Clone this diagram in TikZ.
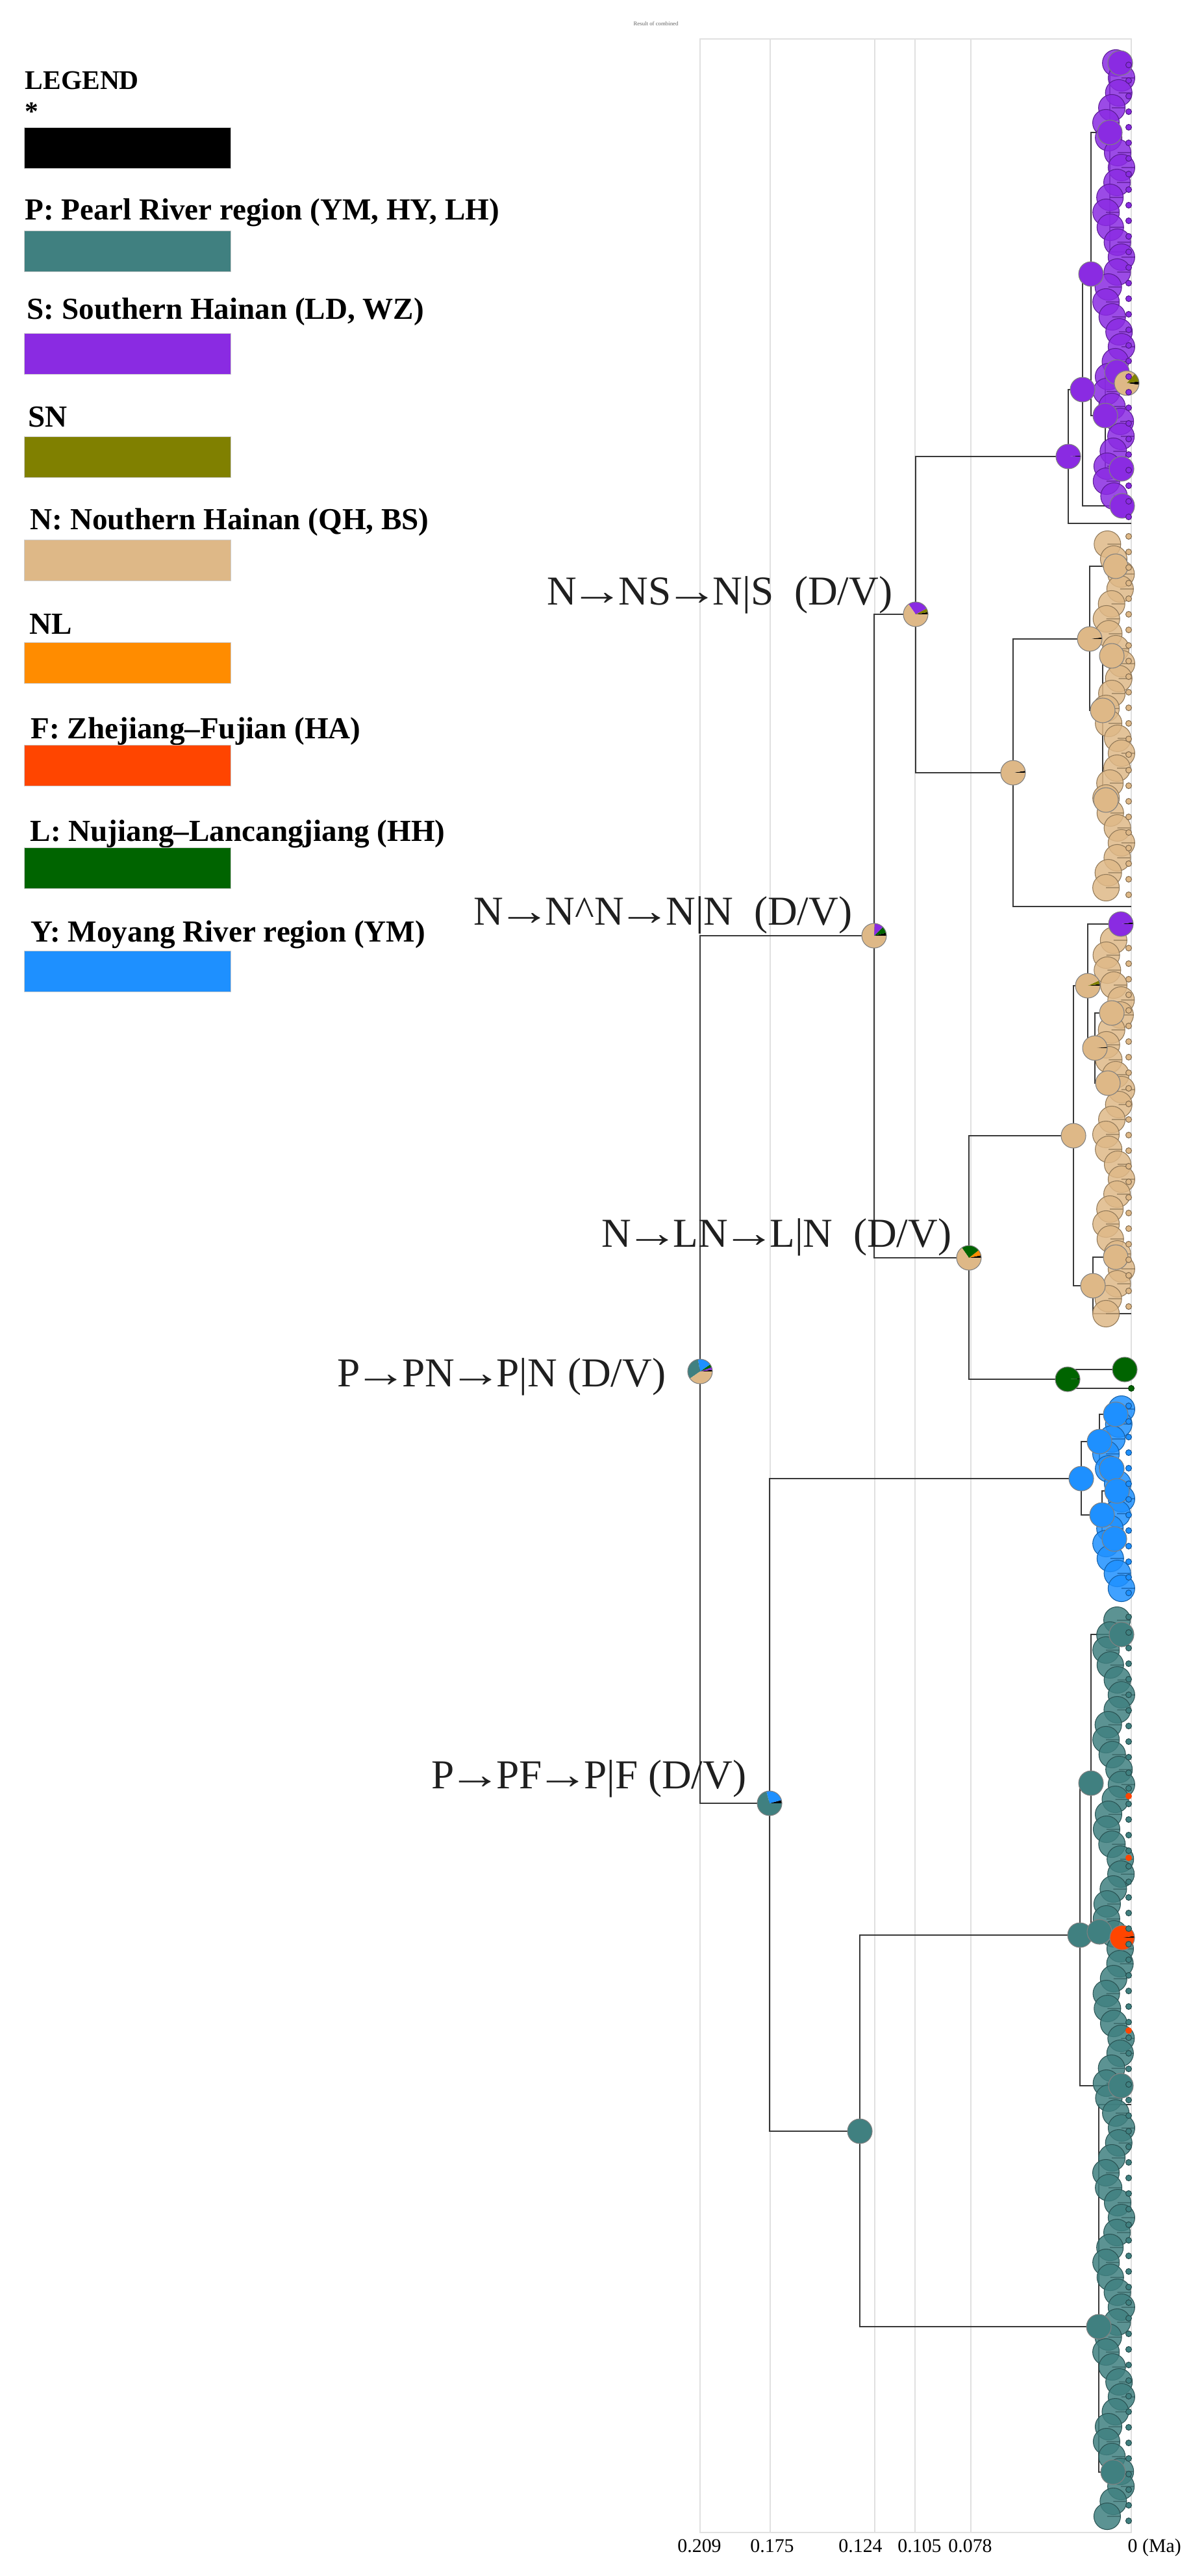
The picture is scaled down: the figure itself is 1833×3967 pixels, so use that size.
\documentclass[tikz,border=0pt]{standalone}
\usepackage{fontspec}
\setmainfont{Liberation Serif}

\definecolor{colP}{HTML}{408080}
\definecolor{colS}{HTML}{8A2BE2}
\definecolor{colSN}{HTML}{808000}
\definecolor{colN}{HTML}{DEB887}
\definecolor{colNL}{HTML}{FF8C00}
\definecolor{colF}{HTML}{FF4500}
\definecolor{colL}{HTML}{006400}
\definecolor{colY}{HTML}{1E90FF}

\tikzset{
  branch/.style={draw=black!78, line width=0.8pt},
  gridline/.style={draw=black!12, line width=0.6pt},
  pierim/.style={draw=black!50, line width=0.3pt},
  swatch/.style={rectangle, draw=black!20, line width=0.2pt, minimum width=3.18cm,
    minimum height=0.63cm, inner sep=0pt},
  legtext/.style={anchor=base west, inner sep=0pt, font=\fontsize{13.4}{16}\selectfont\bfseries},
  legtitle/.style={anchor=base west, inner sep=0pt, font=\fontsize{11.8}{14}\selectfont\bfseries},
  event/.style={anchor=base east, inner sep=0pt, text=black!88, font=\fontsize{18}{21}\selectfont},
  tick/.style={anchor=base, inner sep=0pt, font=\fontsize{8.5}{10}\selectfont},
}

% long thin arrow of the event labels
\newcommand{\evarr}{\kern-.14em\scalebox{1.3}[1]{→}\kern-.14em}

% pie of ancestral ranges: centre, list colour/from/to
\newcommand{\pieat}[2]{%
  \foreach \pc/\pa/\pb in {#2}
    {\fill[\pc] (#1) -- ++(\pa:0.19cm) arc[start angle=\pa, end angle=\pb, radius=0.19cm] -- cycle;}
  \draw[pierim] (#1) circle[radius=0.19cm];}

% near-zero nodes stacked at the tips
\newcommand{\tipball}[3]{%
  \fill[#3, fill opacity=.85] (#1,#2) circle[radius=0.205cm];
  \draw[#3!65!black, line width=.3pt] (#1,#2) circle[radius=0.205cm] (#1,#2) -- ++(0.2cm,0pt);}

\begin{document}
\begin{tikzpicture}[x=0.01cm, y=-0.01cm]
  \useasboundingbox (0,0) rectangle (1833,3967);

  % legend
  \node[legtitle] (lgTitle) at (38,138) {LEGEND};
  \node[legtitle] (lgStar) at (38,186) {*};
  \node[swatch, fill=black] (swStar) at (196,228) {};
  \node[legtext] (lgP) at (38,339) {P: Pearl River region (YM, HY, LH)};
  \node[swatch, fill=colP] (swP) at (196,387) {};
  \node[legtext] (lgS) at (41,492) {S: Southern Hainan (LD, WZ)};
  \node[swatch, fill=colS] (swS) at (196,545) {};
  \node[legtext] (lgSN) at (43,658) {SN};
  \node[swatch, fill=colSN] (swSN) at (196,704) {};
  \node[legtext] (lgN) at (46,815) {N: Nouthern Hainan (QH, BS)};
  \node[swatch, fill=colN] (swN) at (196,863) {};
  \node[legtext] (lgNL) at (45,976) {NL};
  \node[swatch, fill=colNL] (swNL) at (196,1021) {};
  \node[legtext] (lgF) at (47,1137) {F: Zhejiang–Fujian (HA)};
  \node[swatch, fill=colF] (swF) at (196,1179) {};
  \node[legtext] (lgL) at (46,1295) {L: Nujiang–Lancangjiang (HH)};
  \node[swatch, fill=colL] (swL) at (196,1337) {};
  \node[legtext] (lgY) at (47,1450) {Y: Moyang River region (YM)};
  \node[swatch, fill=colY] (swY) at (196,1496) {};

  % time frame
  \node[font=\fontsize{2.5}{3}\selectfont, text=black!60] (title) at (1010,36) {Result of combined};
  \draw[gridline] (1078,60) rectangle (1742,3900);
  \foreach \gx in {1186,1347,1409,1495}
    {\draw[gridline] (\gx,60) -- (\gx,3900);}
  \node[tick] (t209) at (1077,3930) {0.209};
  \node[tick] (t175) at (1189,3930) {0.175};
  \node[tick] (t124) at (1325,3930) {0.124};
  \node[tick] (t105) at (1416,3930) {0.105};
  \node[tick] (t078) at (1494,3930) {0.078};
  \node[tick, anchor=base west] (t000) at (1736,3930) {0 (Ma)};

  % nodes
  \coordinate (root) at (1078,2112);
  \coordinate (nn) at (1346,1441);
  \coordinate (ns) at (1410,946);
  \coordinate (ln) at (1492,1937);
  \coordinate (pf) at (1185,2777);
  \coordinate (s0) at (1645,703);
  \coordinate (s1) at (1667,600);
  \coordinate (s2) at (1680,422);
  \coordinate (s3) at (1709,204);
  \coordinate (s3a) at (1725,97);
  \coordinate (s3b) at (1742,388);
  \coordinate (s4) at (1702,640);
  \coordinate (s4a) at (1720,573);
  \coordinate (s4b) at (1727,722);
  \coordinate (s5) at (1728,779);
  \coordinate (sTip) at (1742,806);
  \coordinate (na) at (1560,1190);
  \coordinate (nb) at (1678,984);
  \coordinate (nc) at (1718,872);
  \coordinate (nd) at (1698,1094);
  \coordinate (nda) at (1712,1010);
  \coordinate (ndb) at (1703,1232);
  \coordinate (naTip) at (1742,1396);
  \coordinate (l0) at (1653,1749);
  \coordinate (l1) at (1675,1518);
  \coordinate (lp) at (1726,1423);
  \coordinate (l3) at (1686,1614);
  \coordinate (l3a) at (1712,1560);
  \coordinate (l3b) at (1706,1668);
  \coordinate (l2) at (1683,1980);
  \coordinate (l2a) at (1718,1936);
  \coordinate (l2b) at (1742,2023);
  \coordinate (g0) at (1644,2124);
  \coordinate (g1) at (1732,2109);
  \coordinate (gTip) at (1742,2138);
  \coordinate (y0) at (1665,2277);
  \coordinate (y1) at (1693,2220);
  \coordinate (y1a) at (1718,2178);
  \coordinate (y1b) at (1712,2262);
  \coordinate (y2) at (1697,2333);
  \coordinate (y2a) at (1720,2296);
  \coordinate (y2b) at (1716,2370);
  \coordinate (p2) at (1324,3282);
  \coordinate (p3) at (1663,2980);
  \coordinate (p3a) at (1680,2746);
  \coordinate (p3b) at (1693,2975);
  \coordinate (p3c) at (1727,2517);
  \coordinate (p3d) at (1726,3212);
  \coordinate (p4) at (1692,3583);
  \coordinate (p4a) at (1742,3241);
  \coordinate (p4b) at (1714,3807);
  \coordinate (sOdd) at (1735,590);
  \coordinate (pOdd) at (1728,2984);

  % branches
  \draw[branch] (root) |- (nn) (root) |- (pf);
  \draw[branch] (nn) |- (ns) (nn) |- (ln);
  \draw[branch] (ns) |- (s0) (ns) |- (na);
  \draw[branch] (s0) |- (s1) (s0) |- (sTip);
  \draw[branch] (s1) |- (s2) (s1) |- (s5);
  \draw[branch] (s2) |- (s3) (s2) |- (s4);
  \draw[branch] (s3) |- (s3a) (s3) |- (s3b);
  \draw[branch] (s4) |- (s4a) (s4) |- (s4b);
  \draw[branch] (na) |- (nb) (na) |- (naTip);
  \draw[branch] (nb) |- (nc) (nb) |- (nd);
  \draw[branch] (nd) |- (nda) (nd) |- (ndb);
  \draw[branch] (ln) |- (l0) (ln) |- (g0);
  \draw[branch] (l0) |- (l1) (l0) |- (l2);
  \draw[branch] (l1) |- (lp) (l1) |- (l3);
  \draw[branch] (l3) |- (l3a) (l3) |- (l3b);
  \draw[branch] (l2) |- (l2a) (l2) |- (l2b);
  \draw[branch] (g0) |- (g1) (g0) |- (gTip);
  \draw[branch] (pf) |- (y0) (pf) |- (p2);
  \draw[branch] (y0) |- (y1) (y0) |- (y2);
  \draw[branch] (y1) |- (y1a) (y1) |- (y1b);
  \draw[branch] (y2) |- (y2a) (y2) |- (y2b);
  \draw[branch] (p2) |- (p3) (p2) |- (p4);
  \draw[branch] (p3) |- (p3a) (p3) |- (p3d);
  \draw[branch] (p3a) |- (p3c) (p3a) |- (p3b);
  \draw[branch] (p4) |- (p4a) (p4) |- (p4b);

  % stacked tip nodes
  \foreach \cc/\ya/\yb in {colS/97/770,colN/838/1380,colN/1448/2035,colY/2170/2455,colP/2495/3880}{
    \pgfmathtruncatemacro\ysec{\ya+23}
    \foreach \y in {\ya,\ysec,...,\yb}{
      \pgfmathsetmacro\bx{1715+12*sin(mod(\y,41)*97)}
      \tipball{\bx}{\y}{\cc}
    }
  }

  % ancestral range pies
  \pieat{root}{black/0/8, colS/8/20, colL/20/35, colY/35/100, colP/100/215, colN/215/360}
  \pieat{nn}{black/0/14, colL/14/45, colS/45/88, colN/88/360}
  \pieat{ns}{black/0/10, colSN/10/28, colS/28/125, colN/125/360}
  \pieat{ln}{black/0/12, colNL/12/38, colL/38/125, colN/125/360}
  \pieat{pf}{black/0/15, colY/15/105, colP/105/360}
  \pieat{s0}{black/0/4, colS/4/360}
  \foreach \nd in {s1,s2,s3,s3a,s4,s4a,s4b,s5}
    {\pieat{\nd}{colS/0/360}}
  \pieat{na}{black/0/9, colN/9/360}
  \pieat{nb}{black/0/7, colN/7/360}
  \foreach \nd in {nc,nd,nda,ndb,l0,l3a,l3b,l2,l2a}
    {\pieat{\nd}{colN/0/360}}
  \pieat{l1}{black/0/8, colSN/8/25, colN/25/360}
  \pieat{l3}{black/0/5, colN/5/360}
  \pieat{lp}{black/0/8, colS/8/360}
  \pieat{g0}{black/0/3, colL/3/360}
  \pieat{g1}{colL/0/360}
  \foreach \nd in {y0,y1,y1a,y1b,y2,y2a,y2b}
    {\pieat{\nd}{colY/0/360}}
  \foreach \nd in {p2,p3,p3a,p3b,p3c,p3d,p4,p4b}
    {\pieat{\nd}{colP/0/360}}
  \pieat{sOdd}{black/-8/8, colSN/8/50, colN/50/352}
  \pieat{pOdd}{black/0/8, colF/8/360}

  % tip markers
  \foreach \cc/\ya/\yb in {colS/100/806,colN/826/1396,colN/1460/2023,colY/2165/2460,colP/2490/3890}{
    \pgfmathtruncatemacro\ysec{\ya+24}
    \foreach \y in {\ya,\ysec,...,\yb}
      {\filldraw[fill=\cc, draw=\cc!60!black, line width=0.3pt] (1738,\y) circle[radius=0.045cm];}
  }
  \filldraw[fill=colL, draw=colL!60!black, line width=0.3pt] (gTip) circle[radius=0.045cm];
  \foreach \ry in {2766,2861,3127}
    {\fill[colF] (1738,\ry) circle[radius=0.05cm];}

  % event labels
  \node[event] (evNS) at (1375,931) {N\evarr NS\evarr N|S\ \ (D/V)};
  \node[event] (evNN) at (1313,1424) {N\evarr N\textasciicircum N\evarr N|N\ \ (D/V)};
  \node[event] (evLN) at (1466,1920) {N\evarr LN\evarr L|N\ \ (D/V)};
  \node[event] (evPN) at (1026,2135) {P\evarr PN\evarr P|N (D/V)};
  \node[event] (evPF) at (1150,2754) {P\evarr PF\evarr P|F (D/V)};
\end{tikzpicture}
\end{document}
